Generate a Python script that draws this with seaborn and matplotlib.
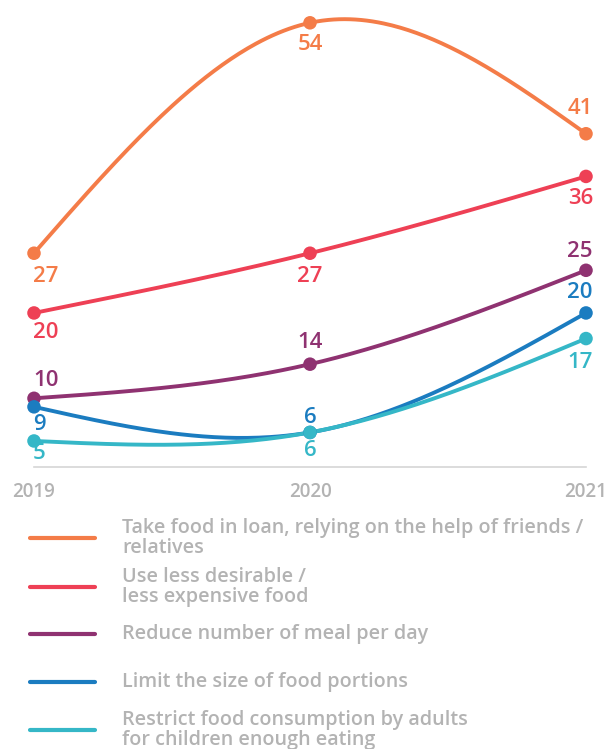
import numpy as np
import pandas as pd
import seaborn as sns
import matplotlib.pyplot as plt
from matplotlib.lines import Line2D

# data
years = [2019, 2020, 2021]
series = [
    "Take food in loan, relying on the help of friends /\nrelatives",
    "Use less desirable /\nless expensive food",
    "Reduce number of meal per day",
    "Limit the size of food portions",
    "Restrict food consumption by adults\nfor children enough eating",
]
loan = [27, 54, 41]
less_desirable = [20, 27, 36]
fewer_meals = [10, 14, 25]
smaller_portions = [9, 6, 20]
adults_restrict = [5, 6, 17]
values = [loan, less_desirable, fewer_meals, smaller_portions, adults_restrict]

colors = ["#F47C48", "#EE4055", "#8F3271", "#1B7CC0", "#35B7C7"]
gray = "#B3B3B3"

# label offsets in pixels (negative = above the point)
label_dy = [
    [23, 22, -25],
    [20, 23, 22],
    [-18, -22, -19],
    [18, -15, -20],
    [13, 18, 24],
]


def natural_spline(x, y, n=200):
    # natural cubic spline through the points (smooth curve like the original)
    x = np.asarray(x, float)
    y = np.asarray(y, float)
    k = len(x)
    h = np.diff(x)
    A = np.zeros((k, k))
    b = np.zeros(k)
    A[0, 0] = A[-1, -1] = 1
    for i in range(1, k - 1):
        A[i, i - 1] = h[i - 1]
        A[i, i] = 2 * (h[i - 1] + h[i])
        A[i, i + 1] = h[i]
        b[i] = 6 * ((y[i + 1] - y[i]) / h[i] - (y[i] - y[i - 1]) / h[i - 1])
    M = np.linalg.solve(A, b)
    xs = np.linspace(x[0], x[-1], n)
    ys = np.empty_like(xs)
    for j, xv in enumerate(xs):
        i = min(np.searchsorted(x, xv, side="right") - 1, k - 2)
        t1 = x[i + 1] - xv
        t0 = xv - x[i]
        ys[j] = (M[i] * t1 ** 3 + M[i + 1] * t0 ** 3) / (6 * h[i]) \
            + (y[i] / h[i] - M[i] * h[i] / 6) * t1 \
            + (y[i + 1] / h[i] - M[i + 1] * h[i] / 6) * t0
    return xs, ys


rows = []
for name, vals in zip(series, values):
    xs, ys = natural_spline(years, vals)
    for xv, yv in zip(xs, ys):
        rows.append({"year": xv, "value": yv, "series": name})
curves = pd.DataFrame(rows)
points = pd.DataFrame(
    [{"year": yr, "value": v, "series": name}
     for name, vals in zip(series, values) for yr, v in zip(years, vals)]
)

sns.set_style("white")
plt.rcParams["font.family"] = ["Open Sans", "DejaVu Sans"]
plt.rcParams["font.weight"] = "semibold"

W, H = 606, 749
fig = plt.figure(figsize=(W / 100, H / 100), dpi=100)
ax = fig.add_axes([34 / W, 1 - 467 / H, (586 - 34) / W, (467 - 10) / H])

palette = dict(zip(series, colors))
sns.lineplot(data=curves, x="year", y="value", hue="series", palette=palette,
             sort=False, estimator=None, linewidth=2.8, legend=False, ax=ax)
for line in ax.lines:
    line.set_clip_on(False)
sns.scatterplot(data=points, x="year", y="value", hue="series", palette=palette,
                s=95, linewidth=0, legend=False, ax=ax, clip_on=False, zorder=5)

ax.set_xlim(2019, 2021)
ax.set_ylim(1.95, 55.5)
ax.set_xticks(years)
ax.set_xticklabels([str(y) for y in years])
ax.set_yticks([])
ax.set_xlabel("")
ax.set_ylabel("")
for s in ["top", "left", "right"]:
    ax.spines[s].set_visible(False)
ax.spines["bottom"].set_color("#D6D6D6")
ax.spines["bottom"].set_linewidth(1.2)
ax.tick_params(axis="x", direction="out", length=7, width=1.2, color="#D6D6D6",
               labelsize=13.5, labelcolor=gray, pad=4)

# value labels
for vals, col, dys in zip(values, colors, label_dy):
    for i, (yr, v) in enumerate(zip(years, vals)):
        if i == 0:
            ha, dx = "left", -1
        elif i == len(years) - 1:
            ha, dx = "right", 7
        else:
            ha, dx = "center", 0
        ax.annotate(str(v), (yr, v), xytext=(dx * 0.72, -dys[i] * 0.72),
                    textcoords="offset points", ha=ha, va="center",
                    fontsize=16, color=col, annotation_clip=False)

# legend
legend_y = [538, 587, 634, 682, 730]
for name, col, y in zip(series, colors, legend_y):
    fig.add_artist(Line2D([30 / W, 95 / W], [1 - y / H, 1 - y / H],
                          color=col, linewidth=3, transform=fig.transFigure))
    fig.text(122 / W, 1 - y / H, name, ha="left", va="center", fontsize=14.2,
             color=gray, linespacing=0.98)

fig.savefig("out.png", dpi=100)
